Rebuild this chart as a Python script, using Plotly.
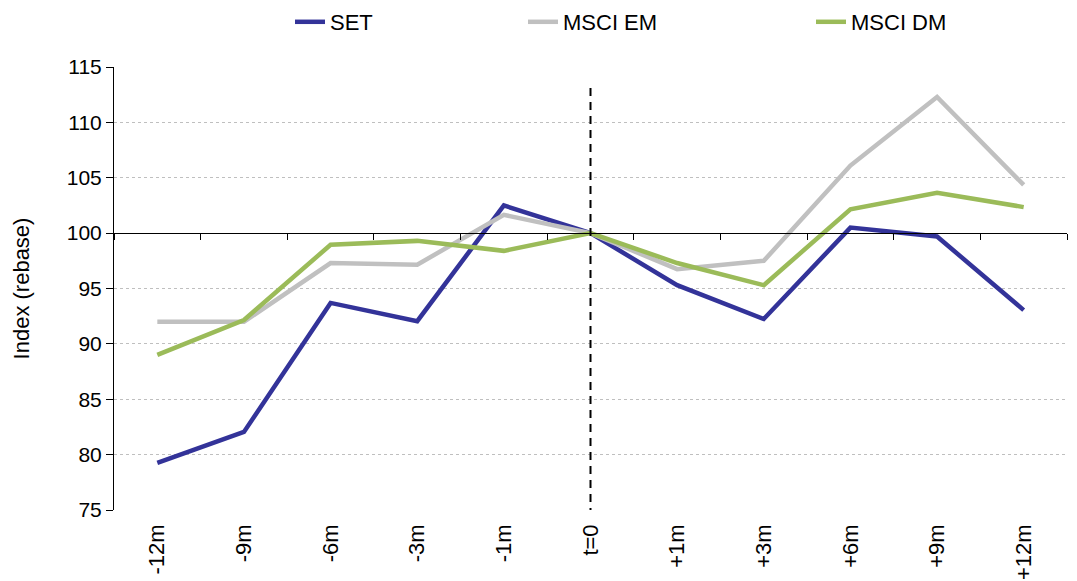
import plotly.graph_objects as go

categories = ["-12m", "-9m", "-6m", "-3m", "-1m", "t=0", "+1m", "+3m", "+6m", "+9m", "+12m"]
set_vals = [79.25, 82.05, 93.7, 92.05, 102.5, 100.0, 95.3, 92.25, 100.5, 99.7, 93.05]
msci_em = [92.0, 92.0, 97.3, 97.15, 101.65, 100.0, 96.75, 97.5, 106.1, 112.3, 104.35]
msci_dm = [89.0, 92.15, 98.95, 99.3, 98.4, 100.0, 97.3, 95.3, 102.15, 103.65, 102.35]
event_label = "t=0"

FONT = "Liberation Sans, Arial, sans-serif"
C_SET = "#333399"
C_EM = "#C0C0C0"
C_DM = "#9BBB59"

W, H = 1077, 581

fig = go.Figure()
fig.add_trace(go.Scatter(x=categories, y=set_vals, name="SET", mode="lines",
                         line=dict(color=C_SET, width=4.5), legend="legend"))
fig.add_trace(go.Scatter(x=categories, y=msci_em, name="MSCI EM", mode="lines",
                         line=dict(color=C_EM, width=4.5), legend="legend2"))
fig.add_trace(go.Scatter(x=categories, y=msci_dm, name="MSCI DM", mode="lines",
                         line=dict(color=C_DM, width=4.5), legend="legend3",
                         xaxis="x2"))

ev = categories.index(event_label)
fig.add_shape(type="line", xref="x", yref="y", x0=ev, x1=ev, y0=113.1, y1=75,
              line=dict(color="black", width=2, dash="8px,6px"), layer="above")

leg_common = dict(orientation="h", xref="container", yref="container",
                  yanchor="middle", xanchor="left", bgcolor="rgba(0,0,0,0)",
                  font=dict(family=FONT, size=22, color="black"))
leg_y = 1 - 14 / H

fig.update_layout(
    width=W, height=H,
    paper_bgcolor="white", plot_bgcolor="white",
    margin=dict(l=106, r=18, t=59, b=79, autoexpand=False),
    font=dict(family=FONT, color="black"),
    showlegend=True,
    legend=dict(x=282 / W, y=leg_y, **leg_common),
    legend2=dict(x=515 / W, y=leg_y, **leg_common),
    legend3=dict(x=803 / W, y=leg_y, **leg_common),
    xaxis=dict(type="category", range=[-0.5, len(categories) - 0.5],
               showline=False, ticks="", showgrid=False, zeroline=False,
               tickangle=-90, tickfont=dict(family=FONT, size=22, color="black"),
               ticklabelstandoff=9, automargin=False),
    xaxis2=dict(type="category", range=[-0.5, len(categories) - 0.5],
                overlaying="x", anchor="free", position=(100 - 75) / (115 - 75),
                side="bottom", showline=True, linecolor="black", linewidth=1,
                ticks="outside", ticklen=6, tickcolor="black", tickwidth=1,
                tickson="boundaries", showticklabels=False, showgrid=False,
                zeroline=False, automargin=False),
    yaxis=dict(range=[75, 115], dtick=5, tick0=75, showline=True,
               linecolor="black", linewidth=1, ticks="outside", ticklen=7,
               tickcolor="black", showgrid=True, gridcolor="#BFBFBF",
               griddash="dot", gridwidth=1, zeroline=False,
               tickfont=dict(family=FONT, size=21, color="black"),
               title=dict(text="Index (rebase)", standoff=31,
                          font=dict(family=FONT, size=22, color="black")),
               automargin=False),
)

fig.write_html("out.html")
